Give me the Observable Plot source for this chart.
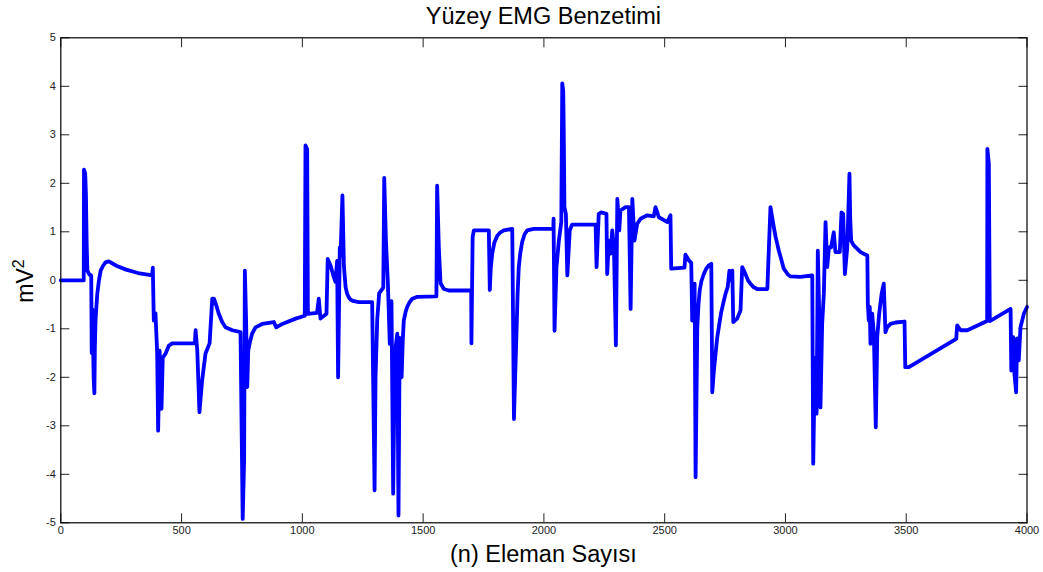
<!DOCTYPE html>
<html><head><meta charset="utf-8">
<script src="https://cdn.jsdelivr.net/npm/d3@7"></script>
<script src="https://cdn.jsdelivr.net/npm/@observablehq/plot@0.6"></script>
<style>body{margin:0;background:#fff} svg{display:block}</style>
</head><body><div id="chart"></div>
<script>
const n = [0,95,96,101,104,107,110,118,126,128,131,136,139,141,144,151,158,165,175,185,199,230,270,320,378,
381,385,392,399,403,409,417,422,434,447,461,555,558,565,574,585,599,616,627,634,644,654,668,682,710,744,
753,759,762,767,772,776,784,792,806,834,882,892,917,972,1010,
1013,1020,1023,1061,1068,1075,1100,1105,1117,1130,1137,1144,1148,1155,1158,1166,1172,1176,1179,1185,1192,1200,1213,1234,1289,
1299,1303,1310,1318,1335,1339,1346,1354,1362,1369,1376,1383,1393,1398,1403,1411,1416,1420,1427,1434,1444,1455,1476,1555,
1558,1565,1572,1586,1606,1699,1700,1705,1710,1772,1776,1780,1786,1795,1807,1820,1834,1869,1876,1887,1891,1896,1902,1910,1920,1931,1958,
2039,2040,2044,2052,2062,2072,2076,2080,2082,2085,2091,2097,2107,2117,2214,2218,2227,2237,2259,2262,2269,2276,
2283,2290,2298,2304,2312,2317,2338,2352,2359,2366,2375,2386,2400,2428,2455,2462,2476,2511,2524,2527,2582,2586,
2600,2610,2614,2624,2628,2635,2640,2645,2652,2662,2672,2683,2693,2697,2704,2711,2717,2724,2734,2745,2753,2761,2768,2773,2780,2784,2800,2814,2821,
2828,2835,2845,2855,2868,2883,2925,2931,2938,2945,2952,2959,2966,2973,2980,2993,3010,3021,3062,3111,3115,3122,3129,3134,3141,3145,3152,3159,
3166,3173,3180,3189,3200,3207,3225,3232,3239,3246,3256,3265,3268,3272,3278,3283,3311,3339,3341,3345,3349,3352,3359,3366,
3374,3380,3388,3398,3407,3414,3421,3435,3456,3493,3496,3511,3707,3711,3725,3753,3835,3836,3842,3846,3932,3935,
3943,3948,3955,3959,3966,3973,3987,4000];
const mv = [0,0,2.28,2.2,1.78,0.79,0.2,0.12,0.1,-1.5,-0.6,-2.0,-2.33,-1.4,-0.8,-0.28,0.0,0.2,0.3,0.37,0.39,0.3,0.22,0.15,0.1,
0.26,-0.83,-0.68,-1.5,-3.1,-1.45,-2.65,-1.6,-1.51,-1.35,-1.3,-1.3,-1.03,-1.45,-2.72,-2.07,-1.51,-1.3,-0.38,-0.38,-0.52,-0.69,-0.86,-0.97,-1.03,-1.07,
-4.92,-3.7,0.2,-0.8,-2.2,-1.45,-1.25,-1.1,-0.97,-0.9,-0.86,-0.97,-0.9,-0.79,-0.73,
2.78,2.7,-0.69,-0.67,-0.38,-0.79,-0.69,0.44,0.3,0.07,-0.03,0.4,-2.0,0.68,0.5,1.75,0.3,0.05,-0.14,-0.27,-0.35,-0.4,-0.43,-0.45,-0.45,
-4.33,-2.0,-0.81,-0.27,-0.15,2.11,0.82,-0.05,-1.31,-0.43,-4.4,-1.5,-1.1,-4.85,-1.19,-2.0,-1.2,-0.83,-0.66,-0.55,-0.45,-0.38,-0.34,-0.33,
1.95,0.68,-0.06,-0.18,-0.21,-0.21,-1.3,0.89,1.03,1.03,-0.2,0.25,0.55,0.78,0.92,0.99,1.03,1.06,-2.86,-1.0,-0.3,0.27,0.55,0.79,0.95,1.03,1.06,
1.06,1.27,-1.04,0.27,0.82,1.2,4.06,3.9,3.16,1.51,1.37,0.1,1.03,1.15,1.15,0.27,1.37,1.4,1.37,0.13,0.82,0.55,
1.03,0.68,-1.34,1.68,1.03,1.44,1.51,1.51,-0.59,1.68,0.82,1.16,1.27,1.34,1.32,1.51,1.3,1.2,1.34,0.24,0.26,0.53,
0.41,0.36,-0.83,-0.07,-4.06,-0.97,-0.5,-0.21,-0.02,0.13,0.24,0.31,0.34,-2.31,-1.85,-1.5,-1.2,-0.97,-0.66,-0.42,-0.26,-0.14,0.2,0.0,0.2,-0.86,-0.79,-0.62,0.27,
0.2,0.12,0.0,-0.07,-0.14,-0.18,-0.18,0.61,1.51,1.3,1.09,0.9,0.75,0.6,0.48,0.24,0.12,0.08,0.07,0.1,-3.78,-1.6,-2.75,0.61,-0.97,-2.62,-0.9,-0.27,
1.2,0.27,0.68,0.68,0.99,0.58,0.58,1.4,1.37,0.13,0.68,2.2,1.3,0.82,0.76,0.72,0.58,0.51,-0.48,-0.83,-0.55,-1.31,-0.69,-1.1,
-3.03,-1.17,-0.69,-0.28,-0.07,-1.07,-0.97,-0.9,-0.87,-0.85,-1.79,-1.79,-1.21,-0.93,-1.03,-1.03,-0.84,2.71,2.4,-0.84,-0.59,-1.86,
-1.17,-1.93,-2.31,-1.2,-1.65,-0.97,-0.69,-0.55];
const xTicks = [0,500,1000,1500,2000,2500,3000,3500,4000];
const yTicks = [-5,-4,-3,-2,-1,0,1,2,3,4,5];
const titleText = "Yüzey EMG Benzetimi";
const xLabelText = "(n) Eleman Sayısı";
const yLabelText = "mV";
const yLabelSup = "2";

const data = n.map((x, i) => ({n: x, mv: mv[i]}));
const font = "'Liberation Sans', Arial, sans-serif";
const W = 1043, H = 572;
const mL = 60.3, mT = 37.3, mR = 16.5, mB = 49.7;
const fmt = d => String(d);

const plot = Plot.plot({
  width: W, height: H,
  marginLeft: mL, marginTop: mT, marginRight: mR, marginBottom: mB,
  style: {fontFamily: font, fontSize: "11px", color: "#222", background: "#fff", overflow: "visible"},
  x: {domain: [0, 4000]},
  y: {domain: [-5, 5]},
  marks: [
    Plot.axisX({ticks: xTicks, anchor: "bottom", tickSize: -9, tickPadding: 12, tickFormat: fmt, label: null, stroke: "#222"}),
    Plot.axisX({ticks: xTicks, anchor: "top", tickSize: -9, tickFormat: () => "", label: null, stroke: "#222"}),
    Plot.axisY({ticks: yTicks, anchor: "left", tickSize: -9, tickPadding: 14, tickFormat: fmt, label: null, stroke: "#222"}),
    Plot.axisY({ticks: yTicks, anchor: "right", tickSize: -9, tickFormat: () => "", label: null, stroke: "#222"}),
    Plot.line(data, {x: "n", y: "mv", stroke: "#0000ff", strokeWidth: 3.8, strokeLinejoin: "round", strokeLinecap: "round"}),
    Plot.frame({stroke: "#000", strokeWidth: 1.2})
  ]
});

const svg = d3.select(plot);
const cx = (mL + (W - mR)) / 2;
svg.append("text").attr("x", cx).attr("y", 23.5).attr("text-anchor", "middle")
  .attr("font-family", font).attr("font-size", 23.5).attr("fill", "#000").text(titleText);
svg.append("text").attr("x", cx).attr("y", 562).attr("text-anchor", "middle")
  .attr("font-family", font).attr("font-size", 23.5).attr("fill", "#000").text(xLabelText);
const yl = svg.append("text").attr("transform", `translate(33,281) rotate(-90)`).attr("text-anchor", "middle")
  .attr("font-family", font).attr("font-size", 23).attr("fill", "#000");
yl.append("tspan").text(yLabelText);
yl.append("tspan").attr("font-size", 16).attr("dy", -9).text(yLabelSup);

document.getElementById("chart").appendChild(plot);
</script>
</body></html>
